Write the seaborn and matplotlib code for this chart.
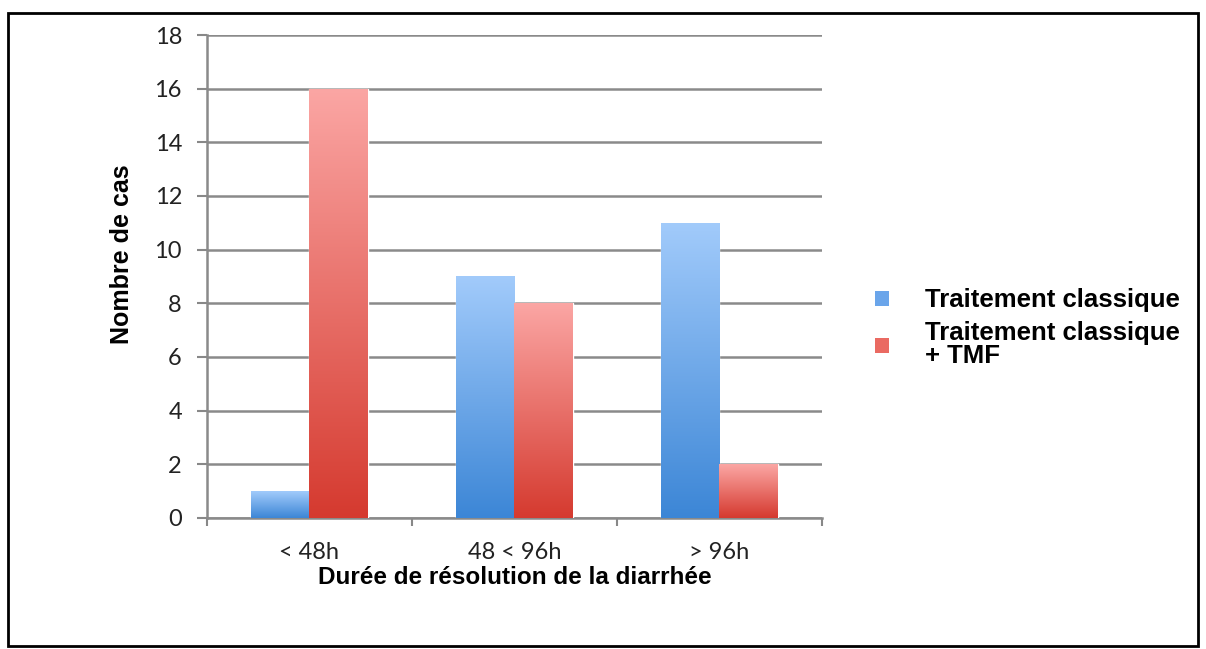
import numpy as np
import pandas as pd
import seaborn as sns
import matplotlib.pyplot as plt
from matplotlib.patches import Patch, Rectangle
from matplotlib.colors import LinearSegmentedColormap

# données
durees = ["< 48h", "48 < 96h", "> 96h"]
series = ["Traitement classique", "Traitement classique\n+ TMF"]
classique = [1, 9, 11]
classique_tmf = [16, 8, 2]

dados = pd.DataFrame({
    "Durée": durees * 2,
    "Traitement": [series[0]] * 3 + [series[1]] * 3,
    "Cas": classique + classique_tmf,
})

sns.set_style("white")
plt.rcParams["font.family"] = ["Liberation Sans", "DejaVu Sans"]
plt.rcParams["text.color"] = "black"
plt.rcParams["axes.labelcolor"] = "black"
plt.rcParams["xtick.labelcolor"] = "#222222"
plt.rcParams["ytick.labelcolor"] = "#222222"

fig = plt.figure(figsize=(12.06, 6.49), dpi=100)
ax = fig.add_axes([0.1716, 0.202, 0.51, 0.744])

cores = {series[0]: "#6aa5ea", series[1]: "#ea6a62"}
sns.barplot(data=dados, x="Durée", y="Cas", hue="Traitement", hue_order=series,
            order=durees, palette=cores, width=0.57, errorbar=None,
            saturation=1, ax=ax, legend=False, zorder=3)

# dégradé vertical dans chaque barre
gradientes = {
    series[0]: LinearSegmentedColormap.from_list("b", ["#3c86d6", "#a2cbfb"]),
    series[1]: LinearSegmentedColormap.from_list("r", ["#d53a2f", "#fba6a4"]),
}
grad = np.linspace(0, 1, 256).reshape(-1, 1)
for i, cont in enumerate(ax.containers):
    for barra in cont:
        x0, y0 = barra.get_x(), barra.get_y()
        w, h = barra.get_width(), barra.get_height()
        img = ax.imshow(grad, cmap=gradientes[series[i]], aspect="auto",
                        origin="lower", extent=[x0, x0 + w, y0, y0 + h],
                        zorder=4, interpolation="bicubic")
        img.set_clip_path(barra)

ax.set_xlim(-0.5, 2.5)
ax.set_ylim(0, 18)
ax.set_yticks(range(0, 19, 2))
ax.set_xticks([-0.5, 0.5, 1.5, 2.5], minor=True)
ax.tick_params(axis="x", which="major", length=0, pad=17)
ax.tick_params(axis="x", which="minor", length=6, width=1.5, color="#888888",
               direction="out", bottom=True)
ax.tick_params(axis="y", length=7, width=1.5, color="#888888", direction="out",
               left=True, pad=11)
for t in ax.get_xticklabels() + ax.get_yticklabels():
    t.set_fontfamily(["Lato", "DejaVu Sans"])
    t.set_fontsize(17)
ax.yaxis.grid(True, color="#8a8a8a", linewidth=1.8, zorder=0)
ax.set_axisbelow(True)
sns.despine(ax=ax, top=True, right=True)
for lado in ["left", "bottom"]:
    ax.spines[lado].set_color("#8a8a8a")
    ax.spines[lado].set_linewidth(1.8)

ax.set_xlabel("Durée de résolution de la diarrhée", fontsize=17.5,
              fontweight="bold")
ax.set_ylabel("Nombre de cas", fontsize=18, fontweight="bold")
ax.xaxis.set_label_coords(0.5, -0.1)
ax.yaxis.set_label_coords(-0.118, 0.547)

alcas = [Patch(facecolor=cores[s], edgecolor="none") for s in series]
leg = fig.legend(alcas, series, loc="center left", bbox_to_anchor=(0.706, 0.494),
                 frameon=False, handlelength=0.55, handleheight=0.55,
                 handletextpad=1.4, labelspacing=0.35,
                 prop={"weight": "bold", "size": 18.5})
for t in leg.get_texts():
    t.set_linespacing(0.95)

fig.patches.append(Rectangle((8 / 1206, 0.004), 1190 / 1206, 1 - 13 / 649 - 0.004,
                             transform=fig.transFigure, fill=False,
                             edgecolor="black", linewidth=2))

fig.savefig("out.png", dpi=100)
